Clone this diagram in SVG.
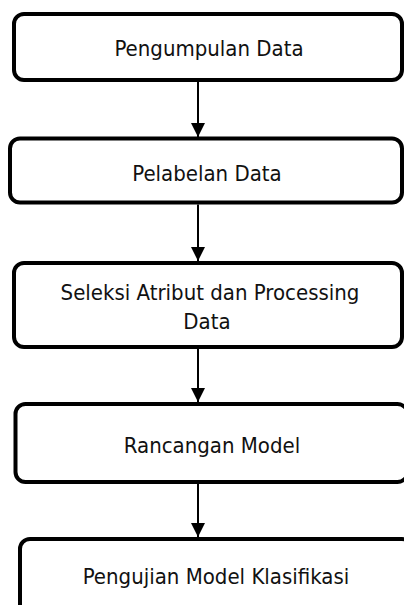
<svg xmlns="http://www.w3.org/2000/svg" width="404" height="605" viewBox="0 0 404 605">
<style>
.box{fill:#fff;stroke:#000;stroke-width:4}
.lbl{font-family:"DejaVu Sans Condensed","DejaVu Sans",sans-serif;font-size:22px;fill:#111;text-anchor:middle}
.con{stroke:#000;stroke-width:2;fill:none}
</style>
<defs>
<marker id="ah" markerWidth="14" markerHeight="14" refX="14" refY="7" orient="auto" markerUnits="userSpaceOnUse">
<path d="M0,0 L14,7 L0,14 Z" fill="#000"/>
</marker>
</defs>
<rect width="404" height="605" fill="#fff"/>
<g id="n1"><rect class="box" x="14" y="14" width="388" height="66" rx="10"/><text class="lbl" x="209" y="56">Pengumpulan Data</text></g>
<g id="n2"><rect class="box" x="10" y="138.5" width="392" height="64" rx="10"/><text class="lbl" x="207" y="181">Pelabelan Data</text></g>
<g id="n3"><rect class="box" x="14" y="263" width="388" height="84" rx="10"/><text class="lbl" x="210" y="300">Seleksi Atribut dan Processing</text><text class="lbl" x="207" y="329">Data</text></g>
<g id="n4"><rect class="box" x="15.5" y="404" width="392" height="78" rx="10"/><text class="lbl" x="212" y="453">Rancangan Model</text></g>
<g id="n5"><rect class="box" x="20" y="539" width="392" height="100" rx="10"/><text class="lbl" x="216" y="584">Pengujian Model Klasifikasi</text></g>
<g id="connectors">
<line class="con" x1="198" y1="82" x2="198" y2="137" marker-end="url(#ah)"/>
<line class="con" x1="198" y1="204.5" x2="198" y2="261" marker-end="url(#ah)"/>
<line class="con" x1="198" y1="349" x2="198" y2="402" marker-end="url(#ah)"/>
<line class="con" x1="198" y1="484" x2="198" y2="537" marker-end="url(#ah)"/>
</g>
</svg>
